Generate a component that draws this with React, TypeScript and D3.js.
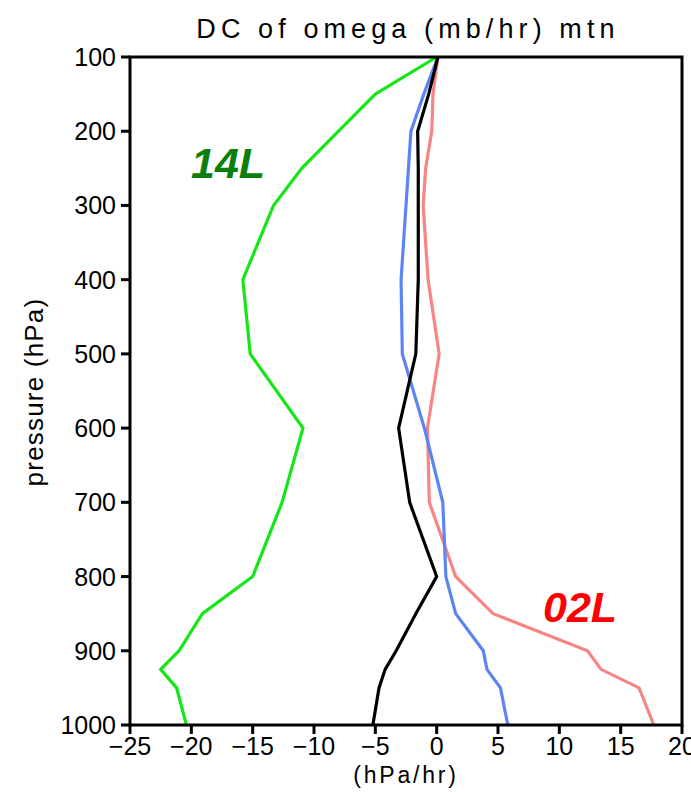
import React from "react";
import * as d3 from "d3";

const levels = [100, 150, 200, 250, 300, 400, 500, 600, 700, 800, 850, 900, 925, 950, 1000];
const green14L = [0, -5, -8, -11, -13.3, -15.8, -15.2, -10.9, -12.6, -15.0, -19.1, -21.0, -22.5, -21.2, -20.4];
const blackMean = [0.1, -0.65, -1.55, -1.5, -1.5, -1.5, -1.7, -3.1, -2.2, 0, -1.7, -3.3, -4.2, -4.7, -5.2];
const blueSeries = [0.1, -1.05, -2.1, -2.3, -2.5, -2.9, -2.8, -1.0, 0.5, 0.75, 1.55, 3.8, 4.1, 5.2, 5.8];
const red02L = [0.1, -0.3, -0.4, -0.9, -1.1, -0.7, 0.2, -0.75, -0.6, 1.55, 4.6, 12.3, 13.4, 16.5, 17.7];

const xTicks = [-25, -20, -15, -10, -5, 0, 5, 10, 15, 20];
const yTicks = [100, 200, 300, 400, 500, 600, 700, 800, 900, 1000];

const series = [
  { name: "14L", values: green14L, color: "#16e616" },
  { name: "02L", values: red02L, color: "#f88484" },
  { name: "blue", values: blueSeries, color: "#5c84f4" },
  { name: "black", values: blackMean, color: "#000000" },
];

export default function App() {
  const W = 691, H = 792;
  const left = 130, right = 682, top = 57, bottom = 725;
  const x = d3.scaleLinear().domain([-25, 20]).range([left, right]);
  const y = d3.scaleLinear().domain([100, 1000]).range([top, bottom]);
  const line = d3
    .line<[number, number]>()
    .x((d) => x(d[0]))
    .y((d) => y(d[1]));
  const font = "'Liberation Sans', Arial, sans-serif";
  const cx = (left + right) / 2;
  return (
    <svg width={W} height={H} style={{ position: "absolute", left: 0, top: 0, background: "#fff" }} fontFamily={font}>
      <rect x={0} y={0} width={W} height={H} fill="#fff" />
      <text x={cx + 2} y={38} textAnchor="middle" fontSize={27} letterSpacing={5.1}>
        DC of omega (mb/hr) mtn
      </text>
      {series.map((s) => (
        <path
          key={s.name}
          d={line(s.values.map((v, i) => [v, levels[i]] as [number, number])) || ""}
          fill="none"
          stroke={s.color}
          strokeWidth={3.2}
          strokeLinejoin="miter"
        />
      ))}
      <rect x={left} y={top} width={right - left} height={bottom - top} fill="none" stroke="#000" strokeWidth={3} />
      {yTicks.map((t) => (
        <g key={t}>
          <line x1={left - 9} x2={left} y1={y(t)} y2={y(t)} stroke="#000" strokeWidth={3} />
          <text x={left - 14} y={y(t) + 9} textAnchor="end" fontSize={25}>
            {t}
          </text>
        </g>
      ))}
      {xTicks.map((t) => (
        <g key={t}>
          <line x1={x(t)} x2={x(t)} y1={bottom} y2={bottom + 9} stroke="#000" strokeWidth={3} />
          <text x={x(t)} y={755} textAnchor="middle" fontSize={25}>
            {t < 0 ? "\u2212" + Math.abs(t) : t}
          </text>
        </g>
      ))}
      <text x={cx} y={783} textAnchor="middle" fontSize={23} letterSpacing={2.8}>
        (hPa/hr)
      </text>
      <text
        transform={`translate(43, ${392}) rotate(-90)`}
        textAnchor="middle"
        fontSize={26}
        letterSpacing={1.2}
      >
        pressure (hPa)
      </text>
      <text x={191} y={178} fontSize={43} fontWeight="bold" fontStyle="italic" fill="#0a800a">
        14L
      </text>
      <text x={543} y={622} fontSize={43} fontWeight="bold" fontStyle="italic" fill="#ff0000">
        02L
      </text>
    </svg>
  );
}
